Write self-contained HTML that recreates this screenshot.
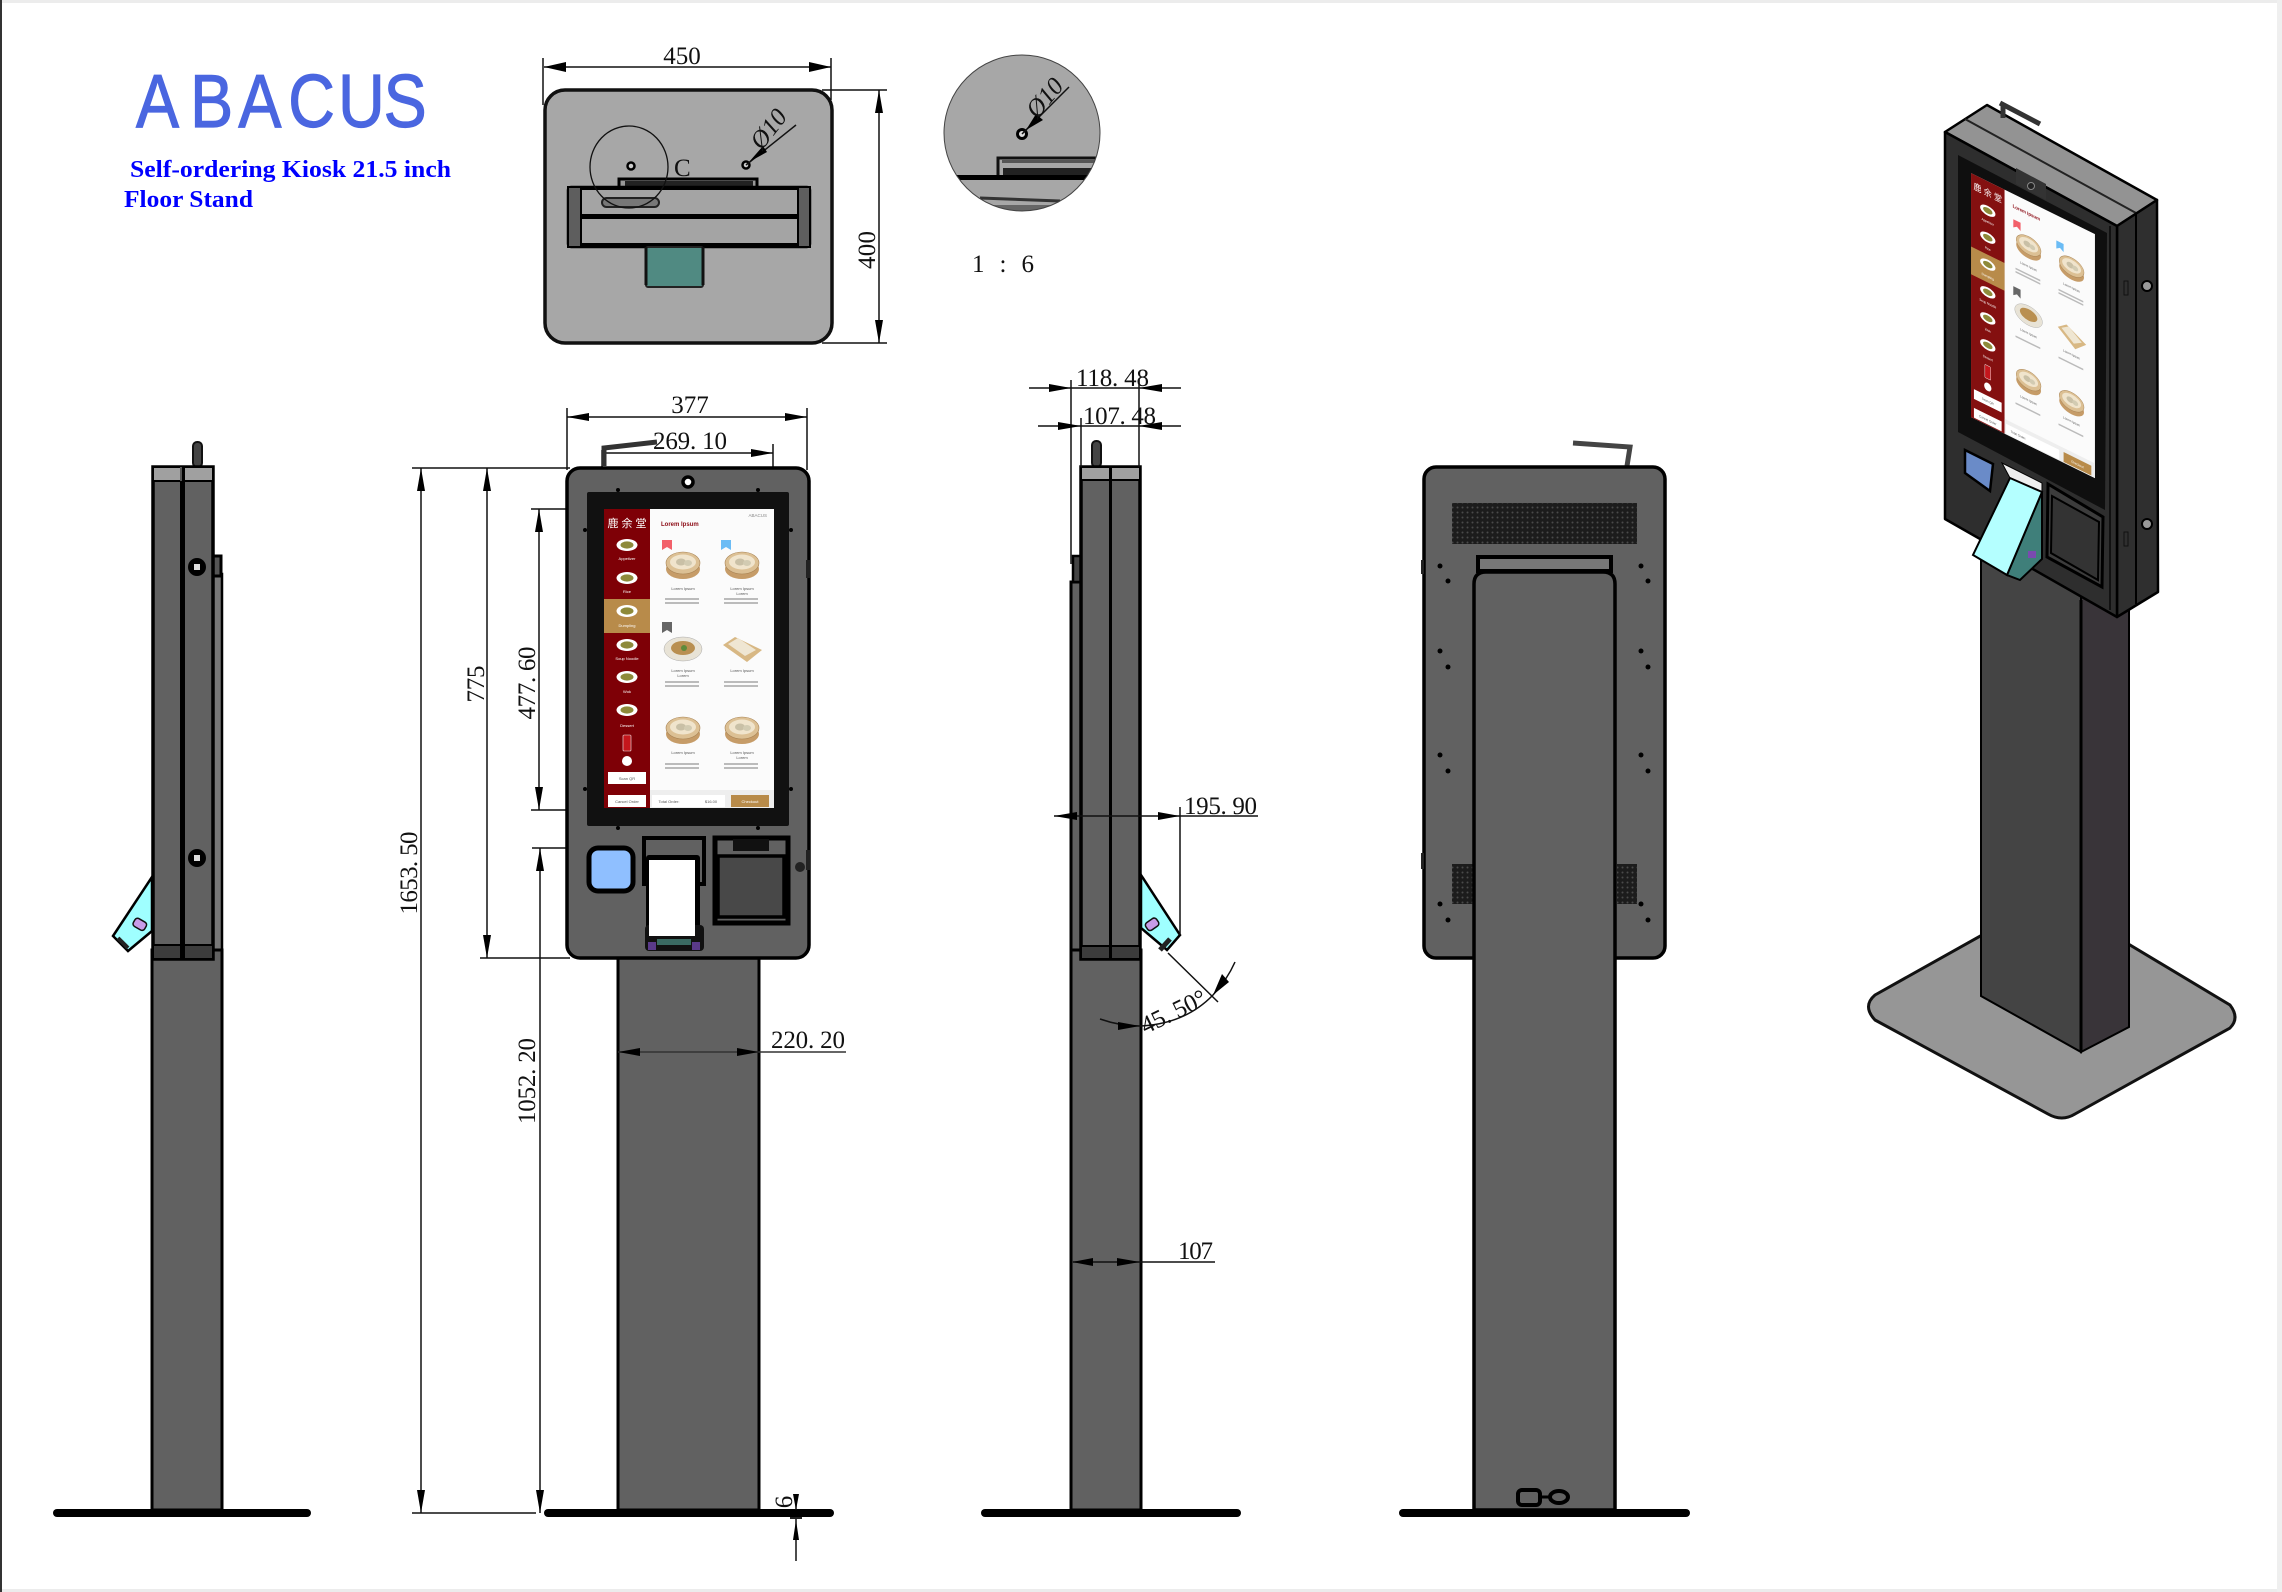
<!DOCTYPE html>
<html><head><meta charset="utf-8"><style>
html,body{margin:0;padding:0;background:#fff;width:2282px;height:1592px;overflow:hidden}
svg{display:block}
.d{font-family:"Liberation Serif",serif;font-size:25px;fill:#111}
.l{stroke:#111;stroke-width:1.5;fill:none}
.a{fill:#000}
.b{fill:#616161;stroke:#000;stroke-width:3.5}
.h{fill:#111}
.s{font-family:"Liberation Sans",sans-serif;font-size:4px;text-anchor:middle}
</style></head><body>
<svg width="2282" height="1592" viewBox="0 0 2282 1592" xmlns="http://www.w3.org/2000/svg">
<defs>
<pattern id="gr" width="5" height="5" patternUnits="userSpaceOnUse"><rect width="5" height="5" fill="#1c1c1c"/><circle cx="2.5" cy="2.5" r="1" fill="#4a4a4a"/></pattern>
<g id="st"><ellipse cx="0" cy="4" rx="17" ry="10" fill="#c69c68"/><ellipse cx="0" cy="-2" rx="17" ry="11" fill="#dcc094" stroke="#a98455" stroke-width=".6"/><ellipse cx="0" cy="-3" rx="13" ry="7.5" fill="#f0e4cc"/><ellipse cx="-2" cy="-3" rx="5" ry="3.5" fill="#c9c0a6"/><ellipse cx="5" cy="-2" rx="4" ry="3" fill="#d2cbb2"/></g>
<g id="pl"><ellipse cx="0" cy="0" rx="10.5" ry="6" fill="#fff"/><ellipse cx="0" cy="0" rx="6.5" ry="3.6" fill="#8e8a3a"/></g>
</defs>
<rect width="2282" height="1592" fill="#fff"/>
<rect x="0" y="0" width="2282" height="3" fill="#ececec"/>
<rect x="0" y="1589" width="2282" height="3" fill="#ececec"/>
<rect x="2277" y="0" width="5" height="1592" fill="#efefef"/>
<rect x="0" y="0" width="2" height="1592" fill="#333"/>

<!-- logo and title -->
<text transform="translate(136,127) scale(.86,1)" x="0 63 119 177 235 288" y="0" font-family="Liberation Sans,sans-serif" font-size="75" fill="#4a66e0" stroke="#4a66e0" stroke-width="1.2">ABACUS</text>
<text x="130" y="177" font-family="Liberation Serif,serif" font-weight="bold" font-size="24" fill="#0000ff" textLength="321" lengthAdjust="spacingAndGlyphs">Self-ordering Kiosk 21.5 inch</text>
<text x="124" y="207" font-family="Liberation Serif,serif" font-weight="bold" font-size="24" fill="#0000ff" textLength="129" lengthAdjust="spacingAndGlyphs">Floor Stand</text>

<!-- plan view -->
<rect x="545" y="90" width="287" height="253" rx="20" fill="#a7a7a7" stroke="#111" stroke-width="3.5"/>
<path class="l" d="M543 58V105M831 58V100M544 67H831M822 90H887M822 343H887M879 90V343"/>
<polygon class="a" points="544,67 566,62 566,72"/><polygon class="a" points="831,67 809,62 809,72"/>
<polygon class="a" points="879,90 875,113 883,113"/><polygon class="a" points="879,343 875,320 883,320"/>
<text class="d" x="682" y="64" text-anchor="middle">450</text>
<text class="d" transform="translate(875,250) rotate(-90)" text-anchor="middle" textLength="38">400</text>
<path d="M619 187V179H757V187" fill="#999" stroke="#000" stroke-width="3"/>
<rect x="625" y="181" width="128" height="5" fill="#222"/>
<rect x="568" y="187" width="242" height="60" rx="3" fill="#a4a4a4" stroke="#000" stroke-width="2.5"/>
<rect x="568" y="187" width="13" height="60" fill="#5e5e5e" stroke="#000" stroke-width="2"/>
<rect x="798" y="187" width="12" height="60" fill="#5e5e5e" stroke="#000" stroke-width="2"/>
<rect x="581" y="214" width="217" height="5" fill="#000"/>
<rect x="581" y="186" width="217" height="4" fill="#000"/><rect x="581" y="243" width="217" height="4" fill="#000"/>
<rect x="602" y="198" width="57" height="9" rx="4.5" fill="#777" stroke="#222" stroke-width="2"/>
<rect x="646" y="247" width="57" height="40" rx="2" fill="#508a82" stroke="#222" stroke-width="2"/>
<path d="M646 247V285M703 247V285" stroke="#111" stroke-width="3"/>
<ellipse cx="629" cy="167" rx="39" ry="41" fill="none" stroke="#111" stroke-width="1.3"/>
<circle cx="631" cy="166" r="3.5" fill="#ccc" stroke="#000" stroke-width="2.5"/>
<circle cx="746" cy="165" r="3.5" fill="#ccc" stroke="#000" stroke-width="2.5"/>
<text class="d" x="674" y="176" font-size="22">C</text>
<path class="l" d="M746 165L796 125"/>
<polygon class="a" points="749,162 763,146 767,152"/>
<text class="d" transform="translate(775,134) rotate(-52)" text-anchor="middle" font-style="italic" font-size="26">Ø10</text>

<!-- detail -->
<clipPath id="dc"><ellipse cx="1022" cy="133" rx="78" ry="78"/></clipPath>
<g clip-path="url(#dc)">
<rect x="940" y="50" width="165" height="166" fill="#a7a7a7"/>
<rect x="945" y="175" width="160" height="5" fill="#000"/>
<path d="M998 175V158H1105" fill="none" stroke="#111" stroke-width="3"/>
<rect x="1002" y="160" width="100" height="3" fill="#555"/>
<rect x="1003" y="168" width="100" height="7" fill="#222"/>
<path d="M980 198L1060 201" stroke="#333" stroke-width="3"/>
<rect x="950" y="205" width="150" height="8" fill="#666"/>
</g>
<ellipse cx="1022" cy="133" rx="78" ry="78" fill="none" stroke="#444" stroke-width="1"/>
<circle cx="1022" cy="134" r="4.5" fill="#ddd" stroke="#000" stroke-width="3"/>
<path class="l" d="M1022 134L1069 87"/>
<polygon class="a" points="1026,130 1036,114 1043,120"/>
<text class="d" transform="translate(1051,103) rotate(-50)" text-anchor="middle" font-style="italic" font-size="26">Ø10</text>
<text class="d" x="972" y="272" textLength="62">1 : 6</text>

<!-- side view 1 -->
<rect x="53" y="1509" width="258" height="8" rx="4" fill="#000"/>
<rect x="213" y="574" width="9" height="400" fill="#777" stroke="#000" stroke-width="2.5"/>
<rect x="152" y="950" width="70" height="560" fill="#616161" stroke="#000" stroke-width="3"/>
<rect x="213" y="556" width="8" height="20" fill="#555" stroke="#000" stroke-width="3"/>
<rect x="193" y="442" width="9" height="25" rx="4" fill="#444" stroke="#111" stroke-width="2"/>
<polygon points="152,877 113,936 128,951 152,931" fill="#9fffff" stroke="#000" stroke-width="2.5"/>
<path d="M118 938L128 948" stroke="#222" stroke-width="4"/>
<rect x="133" y="920" width="13" height="9" rx="3" transform="rotate(30 140 925)" fill="#c89ce8" stroke="#111" stroke-width="1.5"/>
<rect x="153" y="467" width="60" height="492" fill="#616161" stroke="#000" stroke-width="3.5"/>
<rect x="153" y="467" width="60" height="14" fill="#a0a0a0" stroke="#000" stroke-width="2"/>
<rect x="153" y="945" width="60" height="14" fill="#3c3c3c" stroke="#000" stroke-width="2"/>
<rect x="180" y="467" width="5" height="492" fill="#000"/>
<rect x="180" y="467" width="2" height="14" fill="#555"/>
<circle cx="197" cy="567" r="9" fill="#000"/><rect x="194" y="564" width="6" height="6" fill="#ddd"/>
<circle cx="197" cy="858" r="9" fill="#000"/><rect x="194" y="855" width="6" height="6" fill="#ddd"/>

<!-- dimensions front -->
<path class="l" d="M412 468H570M480 958H570M531 509H590M532 848H590M421 468V1513M487 468V958M539 509V810M531 810H590M540 848V1513M412 1513H536" stroke-width="1.5"/>
<path class="l" d="M567 408V470M807 408V470M567 417H807M602 450V502M773 444V502M602 453H773"/>
<polygon class="a" points="421,468 417,491 425,491"/><polygon class="a" points="421,1513 417,1490 425,1490"/>
<polygon class="a" points="487,468 483,491 491,491"/><polygon class="a" points="487,958 483,935 491,935"/>
<polygon class="a" points="539,509 535,532 543,532"/><polygon class="a" points="539,810 535,787 543,787"/>
<polygon class="a" points="540,848 536,871 544,871"/><polygon class="a" points="540,1513 536,1490 544,1490"/>
<polygon class="a" points="567,417 589,413 589,421"/><polygon class="a" points="807,417 785,413 785,421"/>
<polygon class="a" points="773,453 751,449 751,457"/>
<text class="d" x="690" y="413" text-anchor="middle">377</text>
<text class="d" x="653" y="449" textLength="74">269. 10</text>
<text class="d" transform="translate(417,873) rotate(-90)" text-anchor="middle" textLength="83">1653. 50</text>
<text class="d" transform="translate(484,684) rotate(-90)" text-anchor="middle" textLength="37">775</text>
<text class="d" transform="translate(535,683) rotate(-90)" text-anchor="middle" textLength="73">477. 60</text>
<text class="d" transform="translate(535,1081) rotate(-90)" text-anchor="middle" textLength="86">1052. 20</text>

<!-- front view -->
<rect x="544" y="1509" width="290" height="8" rx="4" fill="#000"/>
<rect x="618" y="950" width="141" height="560" fill="#616161" stroke="#000" stroke-width="3"/>
<path d="M618 1052H846" stroke="#333" stroke-width="1.5"/>
<polygon class="a" points="618,1052 640,1048 640,1056"/>
<polygon class="a" points="759,1052 737,1048 737,1056"/>
<text class="d" x="771" y="1048" textLength="74">220. 20</text>
<path d="M604 466V448L657 442" fill="none" stroke="#333" stroke-width="5"/>
<rect x="567" y="468" width="242" height="490" rx="13" class="b"/>
<rect x="587" y="492" width="202" height="334" rx="2" fill="#111"/>
<circle cx="688" cy="482" r="5" fill="#fff" stroke="#000" stroke-width="3.5"/>
<g fill="#000"><circle cx="618" cy="490" r="2"/><circle cx="758" cy="490" r="2"/><circle cx="618" cy="828" r="2"/><circle cx="758" cy="828" r="2"/><circle cx="585" cy="530" r="2"/><circle cx="791" cy="530" r="2"/><circle cx="585" cy="789" r="2"/><circle cx="791" cy="789" r="2"/></g>
<g>
<rect x="604" y="509" width="170" height="299" fill="#fbfbfb"/>
<rect x="604" y="509" width="46" height="299" fill="#7e0006"/>
<rect x="604" y="599" width="46" height="34" fill="#b88b4a"/>
<text x="627" y="527" font-family="Liberation Sans,Noto Sans CJK SC,sans-serif" font-size="11" fill="#fff" text-anchor="middle">鹿 余 堂</text>
<use href="#pl" x="627" y="545"/><use href="#pl" x="627" y="578"/><use href="#pl" x="627" y="611"/><use href="#pl" x="627" y="645"/><use href="#pl" x="627" y="677"/><use href="#pl" x="627" y="710"/>
<g class="s" fill="#fff"><text class="s" x="627" y="560">Appetizer</text><text class="s" x="627" y="593">Rice</text><text class="s" x="627" y="627">Dumpling</text><text class="s" x="627" y="660">Soup Noodle</text><text class="s" x="627" y="693">Wok</text><text class="s" x="627" y="727">Dessert</text></g>
<rect x="623" y="735" width="8" height="16" rx="1" fill="#c4161c" stroke="#eee" stroke-width=".6"/>
<circle cx="627" cy="761" r="5" fill="#fff"/>
<rect x="608" y="772" width="38" height="12" fill="#fff"/><rect x="608" y="795" width="38" height="12" fill="#fff"/>
<text class="s" x="627" y="780" fill="#555">Scan QR</text><text class="s" x="627" y="803" fill="#555">Cancel Order</text>
<text x="661" y="526" font-family="Liberation Sans,sans-serif" font-weight="bold" font-size="6" fill="#8b0a14">Lorem Ipsum</text>
<text x="767" y="517" font-family="Liberation Sans,sans-serif" font-size="4.5" fill="#888" text-anchor="end">ABACUS</text>
<polygon points="662,540 672,540 672,550 667,547 662,550" fill="#f2606a"/><polygon points="721,540 731,540 731,550 726,547 721,550" fill="#6bbcf5"/><polygon points="662,622 672,622 672,633 667,630 662,633" fill="#666"/>
<use href="#st" x="683" y="565"/><use href="#st" x="742" y="565"/><use href="#st" x="683" y="730"/><use href="#st" x="742" y="730"/>
<ellipse cx="683" cy="649" rx="19" ry="12" fill="#e8e3d6" stroke="#aaa" stroke-width=".5"/><ellipse cx="683" cy="648" rx="12" ry="7" fill="#b98f50"/><circle cx="684" cy="648" r="3" fill="#5f8a3a"/>
<polygon points="723,645 735,637 762,650 747,662" fill="#d8b884"/><polygon points="728,644 738,638 756,650 745,656" fill="#efe6d2"/>
<g fill="#555"><text class="s" x="683" y="590">Lorem Ipsum</text><text class="s" x="742" y="590">Lorem Ipsum</text><text class="s" x="742" y="595">Lorem</text><text class="s" x="683" y="672">Lorem Ipsum</text><text class="s" x="683" y="677">Lorem</text><text class="s" x="742" y="672">Lorem Ipsum</text><text class="s" x="683" y="754">Lorem Ipsum</text><text class="s" x="742" y="754">Lorem Ipsum</text><text class="s" x="742" y="759">Lorem</text></g>
<g fill="#bbb"><rect x="665" y="598" width="34" height="2"/><rect x="665" y="602" width="34" height="2"/><rect x="724" y="598" width="34" height="2"/><rect x="724" y="602" width="34" height="2"/><rect x="665" y="681" width="34" height="2"/><rect x="665" y="685" width="34" height="2"/><rect x="724" y="681" width="34" height="2"/><rect x="724" y="685" width="34" height="2"/><rect x="665" y="763" width="34" height="2"/><rect x="665" y="767" width="34" height="2"/><rect x="724" y="763" width="34" height="2"/><rect x="724" y="767" width="34" height="2"/></g>
<rect x="650" y="790" width="124" height="18" fill="#eee"/>
<rect x="652" y="795" width="73" height="12" fill="#fff"/><rect x="731" y="795" width="38" height="12" fill="#b88b4a"/>
<text class="s" x="669" y="803" fill="#555">Total Order:</text><text class="s" x="711" y="803" fill="#555">$16.00</text><text class="s" x="750" y="803" fill="#fff">Checkout</text>
</g>
<rect x="589" y="848" width="44" height="43" rx="9" fill="#8fbfff" stroke="#000" stroke-width="5"/>
<rect x="644" y="838" width="60" height="46" fill="#616161" stroke="#000" stroke-width="4"/>
<rect x="646" y="855" width="54" height="92" rx="3" fill="#000"/>
<rect x="645" y="925" width="59" height="26" rx="4" fill="#111"/>
<rect x="649" y="860" width="46" height="76" fill="#fff"/>
<rect x="657" y="939" width="34" height="6" fill="#3a6a62"/><rect x="648" y="942" width="8" height="8" fill="#5a3a8a"/><rect x="692" y="942" width="8" height="8" fill="#5a3a8a"/>
<path d="M715 838H788V923H715Z" fill="#616161" stroke="#000" stroke-width="5"/>
<rect x="718" y="856" width="66" height="61" fill="#484848" stroke="#000" stroke-width="3.5"/>
<rect x="733" y="839" width="36" height="12" fill="#111"/>
<circle cx="800" cy="867" r="5" fill="#222"/>
<rect x="806" y="560" width="4" height="18" fill="#222"/><rect x="806" y="850" width="4" height="20" fill="#222"/>

<!-- 6 dim -->
<path class="l" d="M796 1494V1510M796 1518V1561"/>
<polygon class="a" points="796,1510 793,1494 799,1494"/><polygon class="a" points="796,1520 793,1540 799,1540"/>
<rect x="790" y="1517" width="12" height="2" fill="#222"/>
<text class="d" transform="translate(792,1502) rotate(-90)" text-anchor="middle" font-size="18">6</text>

<!-- side view 2 -->
<rect x="981" y="1509" width="260" height="8" rx="4" fill="#000"/>
<rect x="1071" y="582" width="10" height="380" fill="#616161" stroke="#000" stroke-width="3"/>
<rect x="1071" y="950" width="70" height="560" fill="#616161" stroke="#000" stroke-width="3"/>
<rect x="1073" y="556" width="8" height="26" fill="#444" stroke="#000" stroke-width="2.5"/>
<rect x="1092" y="441" width="9" height="26" rx="4" fill="#444" stroke="#111" stroke-width="2"/>
<polygon points="1141,875 1180,935 1167,950 1141,928" fill="#9fffff" stroke="#000" stroke-width="2.5"/>
<path d="M1170 939L1160 950" stroke="#222" stroke-width="5"/>
<rect x="1146" y="920" width="13" height="9" rx="3" transform="rotate(-35 1152 925)" fill="#c89ce8" stroke="#111" stroke-width="1.5"/>
<rect x="1081" y="467" width="59" height="492" fill="#616161" stroke="#000" stroke-width="3.5"/>
<rect x="1081" y="467" width="59" height="13" fill="#a0a0a0" stroke="#000" stroke-width="2"/>
<rect x="1081" y="946" width="59" height="13" fill="#3c3c3c" stroke="#000" stroke-width="2"/>
<rect x="1109" y="467" width="3" height="492" fill="#000"/>
<path class="l" d="M1029 388H1181M1038 426H1181M1071 380V564M1139 380V467M1081 418V467M1054 816H1180M1180 807V935M1180 816H1258M1168 953L1218 1002M1073 1262H1215" stroke-width="1.4"/>
<polygon class="a" points="1071,388 1049,384 1049,392"/><polygon class="a" points="1139,388 1162,384 1162,392"/>
<polygon class="a" points="1081,426 1058,422 1058,430"/><polygon class="a" points="1139,426 1162,422 1162,430"/>
<polygon class="a" points="1054,816 1077,812 1077,820"/><polygon class="a" points="1180,816 1158,812 1158,820"/>
<polygon class="a" points="1072,1262 1093,1258 1093,1266"/><polygon class="a" points="1140,1262 1117,1258 1117,1266"/>
<text class="d" x="1076" y="386" textLength="73">118. 48</text>
<text class="d" x="1083" y="424" textLength="73">107. 48</text>
<text class="d" x="1184" y="814" textLength="73">195. 90</text>
<text class="d" x="1178" y="1259" textLength="35">107</text>
<path class="l" d="M1100 1019Q1120 1026 1140 1026Q1185 1024 1213 995Q1227 980 1235 962"/>
<polygon class="a" points="1140,1026 1118,1022 1118,1030"/>
<polygon class="a" points="1213,995 1222,974 1229,982"/>
<text class="d" transform="translate(1177,1019) rotate(-26)" text-anchor="middle" textLength="70">45. 50°</text>

<!-- back view -->
<rect x="1399" y="1509" width="291" height="8" rx="4" fill="#000"/>
<path d="M1573 443L1630 447L1627 466" fill="none" stroke="#444" stroke-width="5"/>
<rect x="1424" y="467" width="241" height="491" rx="12" class="b"/>
<rect x="1452" y="503" width="185" height="41" fill="url(#gr)"/>
<rect x="1452" y="864" width="21" height="40" fill="url(#gr)"/><rect x="1617" y="864" width="20" height="40" fill="url(#gr)"/>
<rect x="1478" y="557" width="133" height="14" fill="#777" stroke="#000" stroke-width="4"/>
<path d="M1474 1510V584Q1474 572 1486 572H1603Q1615 572 1615 584V1510Z" fill="#616161" stroke="#000" stroke-width="3.5"/>
<g fill="#000"><circle cx="1440" cy="566" r="2.5"/><circle cx="1448" cy="581" r="2.5"/><circle cx="1641" cy="566" r="2.5"/><circle cx="1648" cy="581" r="2.5"/><circle cx="1440" cy="651" r="2.5"/><circle cx="1448" cy="667" r="2.5"/><circle cx="1641" cy="651" r="2.5"/><circle cx="1648" cy="667" r="2.5"/><circle cx="1440" cy="755" r="2.5"/><circle cx="1448" cy="771" r="2.5"/><circle cx="1641" cy="755" r="2.5"/><circle cx="1648" cy="771" r="2.5"/><circle cx="1440" cy="904" r="2.5"/><circle cx="1448" cy="920" r="2.5"/><circle cx="1641" cy="904" r="2.5"/><circle cx="1648" cy="920" r="2.5"/></g>
<rect x="1421" y="560" width="3" height="14" fill="#222"/><rect x="1421" y="853" width="3" height="16" fill="#222"/>
<g fill="none" stroke="#000" stroke-width="4"><rect x="1518" y="1490" width="22" height="15" rx="4"/><ellipse cx="1559" cy="1497" rx="9" ry="6"/></g>
<path d="M1540 1497H1550" stroke="#000" stroke-width="3"/>

<!-- iso -->
<path d="M1875 995L2050 897L2230 1005Q2240 1018 2230 1028L2075 1114Q2062 1122 2048 1114L1875 1020Q1862 1006 1875 995Z" fill="#969696" stroke="#111" stroke-width="3"/>
<polygon points="1981,520 2081,560 2081,1052 1981,996" fill="#444" stroke="#000" stroke-width="2"/>
<polygon points="2081,560 2129,560 2129,1027 2081,1052" fill="#393439" stroke="#000" stroke-width="2"/>
<line x1="2081" y1="600" x2="2081" y2="1052" stroke="#000" stroke-width="3"/>
<polygon points="1945,132 1987,105 2157,200 2117,226" fill="#939393" stroke="#000" stroke-width="2.5" stroke-linejoin="round"/>
<path d="M1965 119L2136 213" stroke="#222" stroke-width="2"/>
<path d="M2000 103L2040 124M2003 103V118" fill="none" stroke="#333" stroke-width="5"/>
<polygon points="2117,226 2157,200 2158,592 2117,617" fill="#2f2f2f" stroke="#000" stroke-width="2.5" stroke-linejoin="round"/>
<path d="M2136 213V604" stroke="#000" stroke-width="2"/>
<polygon points="1945,132 2117,226 2117,617 1945,519" fill="#2e2e2e" stroke="#000" stroke-width="2.5" stroke-linejoin="round"/>
<path d="M2110 226V610" stroke="#111" stroke-width="2"/>
<circle cx="2147" cy="286" r="5" fill="#999" stroke="#000" stroke-width="2"/><circle cx="2147" cy="524" r="5" fill="#999" stroke="#000" stroke-width="2"/>
<rect x="2124" y="281" width="4" height="14" fill="none" stroke="#111"/><rect x="2124" y="532" width="4" height="14" fill="none" stroke="#111"/>
<polygon points="1958,155 2107,233 2105,510 1958,432" fill="#0f0f0f"/>
<polygon points="2016,168 2046,184 2046,200 2016,184" fill="#333"/>
<circle cx="2031" cy="186" r="3.5" fill="#222" stroke="#888"/>
<g transform="matrix(.729 .359 0 .816 1530.7 -459.1)">
<rect x="604" y="509" width="170" height="299" fill="#fbfbfb"/>
<rect x="604" y="509" width="46" height="299" fill="#841010"/>
<rect x="604" y="599" width="46" height="34" fill="#b88b4a"/>
<text x="627" y="527" font-family="Liberation Sans,Noto Sans CJK SC,sans-serif" font-size="11" fill="#fff" text-anchor="middle">鹿 余 堂</text>
<use href="#pl" x="627" y="545"/><use href="#pl" x="627" y="578"/><use href="#pl" x="627" y="611"/><use href="#pl" x="627" y="645"/><use href="#pl" x="627" y="677"/><use href="#pl" x="627" y="710"/>
<text class="s" x="627" y="560" fill="#fff">Appetizer</text><text class="s" x="627" y="593" fill="#fff">Rice</text><text class="s" x="627" y="627" fill="#fff">Dumpling</text><text class="s" x="627" y="660" fill="#fff">Soup Noodle</text><text class="s" x="627" y="693" fill="#fff">Wok</text><text class="s" x="627" y="727" fill="#fff">Dessert</text>
<rect x="623" y="735" width="8" height="16" rx="1" fill="#c4161c" stroke="#eee" stroke-width=".6"/>
<circle cx="627" cy="761" r="5" fill="#fff"/>
<rect x="608" y="772" width="38" height="12" fill="#fff"/><rect x="608" y="795" width="38" height="12" fill="#fff"/>
<text class="s" x="627" y="780" fill="#555">Scan QR</text><text class="s" x="627" y="803" fill="#555">Cancel Order</text>
<text x="661" y="526" font-family="Liberation Sans,sans-serif" font-weight="bold" font-size="6" fill="#8b0a14">Lorem Ipsum</text>
<polygon points="662,540 672,540 672,550 667,547 662,550" fill="#f2606a"/><polygon points="721,540 731,540 731,550 726,547 721,550" fill="#6bbcf5"/><polygon points="662,622 672,622 672,633 667,630 662,633" fill="#666"/>
<use href="#st" x="683" y="565"/><use href="#st" x="742" y="565"/><use href="#st" x="683" y="730"/><use href="#st" x="742" y="730"/>
<ellipse cx="683" cy="649" rx="19" ry="12" fill="#e8e3d6" stroke="#aaa" stroke-width=".5"/><ellipse cx="683" cy="648" rx="12" ry="7" fill="#b98f50"/>
<polygon points="723,645 735,637 762,650 747,662" fill="#d8b884"/><polygon points="728,644 738,638 756,650 745,656" fill="#efe6d2"/>
<text class="s" x="683" y="590" fill="#555">Lorem Ipsum</text><text class="s" x="742" y="590" fill="#555">Lorem Ipsum</text><text class="s" x="683" y="672" fill="#555">Lorem Ipsum</text><text class="s" x="742" y="672" fill="#555">Lorem Ipsum</text><text class="s" x="683" y="754" fill="#555">Lorem Ipsum</text><text class="s" x="742" y="754" fill="#555">Lorem Ipsum</text>
<g fill="#bbb"><rect x="665" y="598" width="34" height="2"/><rect x="665" y="602" width="34" height="2"/><rect x="724" y="598" width="34" height="2"/><rect x="724" y="602" width="34" height="2"/><rect x="665" y="681" width="34" height="2"/><rect x="724" y="681" width="34" height="2"/><rect x="665" y="763" width="34" height="2"/><rect x="724" y="763" width="34" height="2"/></g>
<rect x="650" y="790" width="124" height="18" fill="#eee"/>
<rect x="652" y="795" width="73" height="12" fill="#fff"/><rect x="731" y="795" width="38" height="12" fill="#b88b4a"/>
<text class="s" x="669" y="803" fill="#555">Total Order:</text><text class="s" x="750" y="803" fill="#fff">Checkout</text>
</g>
<polygon points="1965,450 1993,464 1990,491 1965,473" fill="#6a8bc8" stroke="#000" stroke-width="2.5"/>
<polygon points="2002,463 2042,483 2042,492 2010,478" fill="#eee" stroke="#000"/>
<polygon points="2048,484 2103,517 2102,587 2047,557" fill="#3c3c3c" stroke="#000" stroke-width="3"/>
<polygon points="2052,496 2099,522 2098,580 2051,553" fill="#333" stroke="#000" stroke-width="2"/>
<polygon points="2042,492 2042,559 2020,580 2007,575" fill="#3f7f7a" stroke="#000" stroke-width="2"/>
<polygon points="2010,478 2042,492 2007,575 1973,555" fill="#b4ffff" stroke="#000" stroke-width="2"/>
<rect x="2028" y="551" width="8" height="7" fill="#7a4ab0"/>
</svg>
</body></html>
